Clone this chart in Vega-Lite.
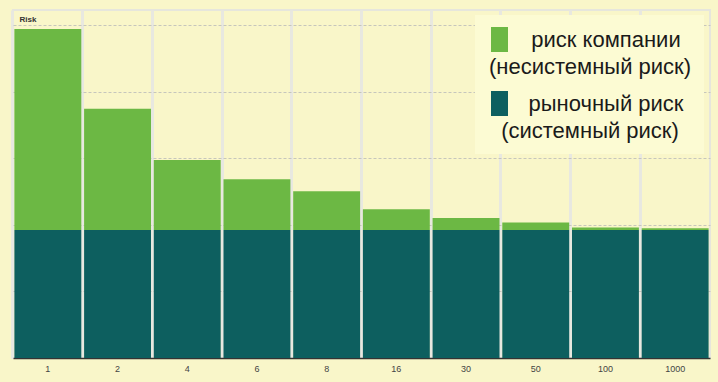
{
  "$schema": "https://vega.github.io/schema/vega-lite/v6.json",
  "width": 697,
  "height": 348,
  "autosize": {"type": "none"},
  "padding": {"left": 13, "top": 10, "right": 8, "bottom": 24},
  "background": "#f9f6c9",
  "config": {
    "view": {"stroke": "#e6e6dc", "strokeWidth": 2},
    "font": "Liberation Sans",
    "style": {"guide-label": {"lineHeight": 27}}
  },
  "data": {
    "values": [
      {"n": "1", "type": "рыночный риск", "value": 1.925},
      {"n": "1", "type": "риск компании", "value": 3.02},
      {"n": "2", "type": "рыночный риск", "value": 1.925},
      {"n": "2", "type": "риск компании", "value": 1.82},
      {"n": "4", "type": "рыночный риск", "value": 1.925},
      {"n": "4", "type": "риск компании", "value": 1.05},
      {"n": "6", "type": "рыночный риск", "value": 1.925},
      {"n": "6", "type": "риск компании", "value": 0.76},
      {"n": "8", "type": "рыночный риск", "value": 1.925},
      {"n": "8", "type": "риск компании", "value": 0.58},
      {"n": "16", "type": "рыночный риск", "value": 1.925},
      {"n": "16", "type": "риск компании", "value": 0.31},
      {"n": "30", "type": "рыночный риск", "value": 1.925},
      {"n": "30", "type": "риск компании", "value": 0.18},
      {"n": "50", "type": "рыночный риск", "value": 1.925},
      {"n": "50", "type": "риск компании", "value": 0.11},
      {"n": "100", "type": "рыночный риск", "value": 1.925},
      {"n": "100", "type": "риск компании", "value": 0.035},
      {"n": "1000", "type": "рыночный риск", "value": 1.925},
      {"n": "1000", "type": "риск компании", "value": 0.025}
    ]
  },
  "mark": {"type": "bar"},
  "encoding": {
    "x": {
      "field": "n",
      "type": "ordinal",
      "sort": null,
      "scale": {"paddingInner": 0.04, "paddingOuter": 0.02},
      "axis": {
        "title": null,
        "labelAngle": 0,
        "labelFontSize": 9,
        "labelColor": "#444444",
        "labelPadding": 6,
        "ticks": false,
        "domainColor": "#333333",
        "domainWidth": 1.5,
        "grid": true,
        "gridColor": "#e8e8e0",
        "gridWidth": 3,
        "bandPosition": -0.021
      }
    },
    "y": {
      "field": "value",
      "type": "quantitative",
      "stack": "zero",
      "scale": {"domain": [0, 5.23], "nice": false},
      "axis": {
        "title": "Risk",
        "titleAngle": 0,
        "titleAlign": "left",
        "titleBaseline": "alphabetic",
        "titleX": 6,
        "titleY": 11,
        "titleFontSize": 8,
        "titleFontWeight": "bold",
        "titleColor": "#333333",
        "values": [1, 2, 3, 4, 5],
        "labels": false,
        "ticks": false,
        "domain": false,
        "grid": true,
        "gridColor": "#c6c6bc",
        "gridDash": [3, 2],
        "gridWidth": 1
      }
    },
    "color": {
      "field": "type",
      "type": "nominal",
      "scale": {"domain": ["риск компании", "рыночный риск"], "range": ["#6cb844", "#0d5f5f"]},
      "legend": {
        "title": null,
        "orient": "none",
        "legendX": 462,
        "legendY": 5,
        "fillColor": "#fcfbd3",
        "padding": 12,
        "symbolType": "M-0.68,-1H0.68V1H-0.68Z",
        "symbolSize": 625,
        "symbolStrokeWidth": 0,
        "labelFont": "Liberation Sans",
        "labelFontSize": 22,
        "labelColor": "#1a1a1a",
        "labelAlign": "center",
        "labelBaseline": "middle",
        "labelOffset": 78,
        "labelLimit": 400,
        "rowPadding": 13,
        "labelExpr": "datum.label == 'риск компании' ? ['\u2800\u2800риск компании', '(несистемный риск)'] : ['\u2800\u2800рыночный риск', '(системный риск)']"
      }
    },
    "order": {"field": "type", "sort": "descending"}
  }
}
